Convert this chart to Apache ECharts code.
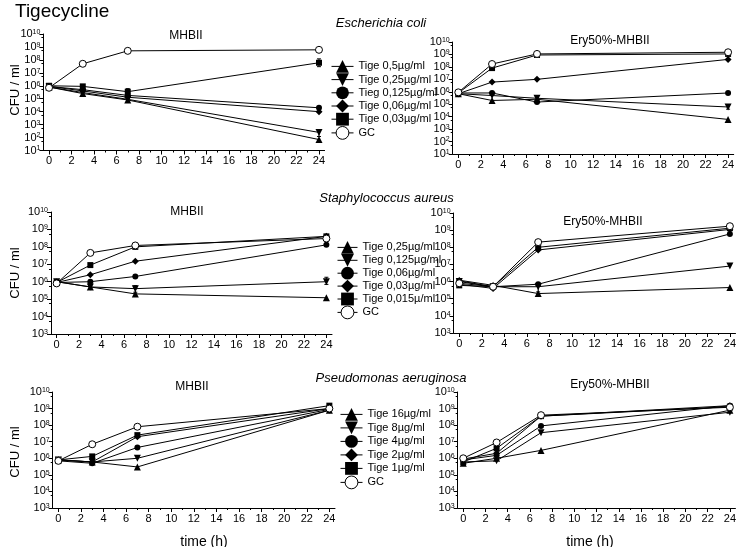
<!DOCTYPE html>
<html><head><meta charset="utf-8">
<script src="https://cdn.jsdelivr.net/npm/echarts@6/dist/echarts.min.js"></script>
<style>html,body{margin:0;padding:0;background:#fff}#c{width:739px;height:547px}</style>
</head><body><div id="c"></div>
<script>
// ---------- data ----------
const times = [0, 3, 7, 24];
const xLabelValues = [0, 2, 4, 6, 8, 10, 12, 14, 16, 18, 20, 22, 24];
const xMinorValues = [1, 3, 5, 7, 9, 11, 13, 15, 17, 19, 21, 23];

const ecoliNames = ['Tige 0,5µg/ml', 'Tige 0,25µg/ml', 'Tieg 0,125µg/ml', 'Tige 0,06µg/ml', 'Tige 0,03µg/ml', 'GC'];
const aureusNames = ['Tige 0,25µg/ml', 'Tieg 0,125µg/ml', 'Tige 0,06µg/ml', 'Tige 0,03µg/ml', 'Tige 0,015µ/ml', 'GC'];
const pseudoNames = ['Tige 16µg/ml', 'Tige 8µg/ml', 'Tige 4µg/ml', 'Tige 2µg/ml', 'Tige 1µg/ml', 'GC'];

// rows: ▲, ▼, ●, ◆, ■, GC  (CFU/ml at t = 0, 3, 7, 24 h)
const ecoliMHB = [
  [8e5, 2.5e5, 8e4, 7e1],
  [8e5, 3e5, 9e4, 2.5e2],
  [9e5, 5e5, 1.8e5, 2e4],
  [9e5, 4e5, 1.3e5, 1e4],
  [1e6, 9e5, 3.5e5, 6e7],
  [7e5, 5e7, 5e8, 6e8]
];
const ecoliEry = [
  [7e5, 2e5, 2.5e5, 6e3],
  [7e5, 5e5, 3e5, 6e4],
  [8e5, 8e5, 1.5e5, 8e5],
  [7e5, 6e6, 1e7, 4e8],
  [8e5, 8e7, 9e8, 1.1e9],
  [9e5, 1.7e8, 1.1e9, 1.5e9]
];
const aureusMHB = [
  [1e6, 5e5, 2e5, 1.2e5],
  [1e6, 5e5, 4e5, 1e6],
  [9e5, 1e6, 2e6, 1.3e8],
  [9e5, 2.5e6, 1.5e7, 4e8],
  [9e5, 9e6, 1e8, 4e8],
  [8e5, 4.5e7, 1.2e8, 3e8]
];
const aureusEry = [
  [1.2e6, 6e5, 2e5, 4.5e5],
  [1e6, 5e5, 5e5, 8e6],
  [1.1e6, 5e5, 7e5, 6e8],
  [7e5, 4e5, 7e7, 1.1e9],
  [6e5, 5e5, 1e8, 1.3e9],
  [8e5, 5e5, 2e8, 1.7e9]
];
const pseudoMHB = [
  [8e5, 6e5, 3e5, 8e8],
  [8e5, 6e5, 1e6, 8e8],
  [7e5, 5e5, 4.5e6, 9e8],
  [8e5, 6e5, 2e7, 1e9],
  [8e5, 1.3e6, 2.5e7, 1.5e9],
  [7e5, 7e6, 8e7, 1e9]
];
const pseudoEry = [
  [5e5, 1e6, 3e6, 8e8],
  [6e5, 7e5, 3.5e7, 6e8],
  [8e5, 1.5e6, 9e7, 1.5e9],
  [9e5, 2e6, 3.5e8, 1.5e9],
  [6e5, 4e6, 3.5e8, 1.3e9],
  [1e6, 9e6, 4e8, 1.2e9]
];

// error bars: [time, low, high]
const ecoliMHBErr = [[24, 3e7, 1.2e8], [24, 1.2e2, 4e2], [7, 1.8e5, 6e5], [3, 1.5e5, 4e5]];
const ecoliEryErr = [[24, 4e4, 9e4], [7, 1.5e5, 5e5]];
const aureusMHBErr = [[24, 7e5, 1.8e6], [7, 2.5e5, 6e5]];
const aureusEryErr = [[7, 2.5e5, 8e5]];
const pseudoMHBErr = [];
const pseudoEryErr = [];

// ---------- layout / style ----------
const FONT = "'Liberation Sans', Arial, Helvetica, sans-serif";
const symbols = ['triangle', 'path://M0,0L10,0L5,10Z', 'circle', 'path://M5,0L10,5L5,10L0,5Z', 'rect', 'circle'];
const symbolSizes = [7, 7, 6, 7, 6, 7];

const panels = [
  {data: ecoliMHB,  err: ecoliMHBErr,  names: ecoliNames,  yMin: 1e1, left: 43.4,  top: 34,  width: 281.2, height: 116.5},
  {data: ecoliEry,  err: ecoliEryErr,  names: ecoliNames,  yMin: 1e1, left: 452.7, top: 42,  width: 281,   height: 112},
  {data: aureusMHB, err: aureusMHBErr, names: aureusNames, yMin: 1e3, left: 51,    top: 212, width: 281,   height: 122},
  {data: aureusEry, err: aureusEryErr, names: aureusNames, yMin: 1e3, left: 453.6, top: 213, width: 283.7, height: 120},
  {data: pseudoMHB, err: pseudoMHBErr, names: pseudoNames, yMin: 1e3, left: 52.7,  top: 392, width: 282.3, height: 116},
  {data: pseudoEry, err: pseudoEryErr, names: pseudoNames, yMin: 1e3, left: 457.7, top: 392, width: 281,   height: 116}
];

const grid = [], xAxis = [], yAxis = [], series = [];
panels.forEach((p, k) => {
  grid.push({left: p.left, top: p.top, width: p.width, height: p.height, containLabel: false});
  xAxis.push({
    type: 'value', gridIndex: k, min: -0.5, max: 24.5, position: 'bottom',
    axisLine: {show: true, onZero: false, lineStyle: {color: '#000', width: 1}},
    axisTick: {show: true, customValues: xLabelValues, length: 4, lineStyle: {color: '#000'}},
    axisLabel: {show: true, customValues: xLabelValues, margin: 5, fontSize: 11, fontFamily: FONT, color: '#000',
      showMinLabel: true, showMaxLabel: true, hideOverlap: false},
    splitLine: {show: false}
  });
  xAxis.push({
    type: 'value', gridIndex: k, min: -0.5, max: 24.5, position: 'bottom',
    axisLine: {show: false, onZero: false},
    axisTick: {show: true, customValues: xMinorValues, length: 2, lineStyle: {color: '#000'}},
    axisLabel: {show: false},
    splitLine: {show: false}
  });
  yAxis.push({
    type: 'log', logBase: 10, gridIndex: k, min: p.yMin, max: 1e10, interval: 1,
    axisLine: {show: true, onZero: false, lineStyle: {color: '#000', width: 1}},
    axisTick: {show: true, length: 4, lineStyle: {color: '#000'}},
    minorTick: {show: true, splitNumber: 2, length: 2, lineStyle: {color: '#000'}},
    splitLine: {show: false},
    axisLabel: {
      margin: 3, showMinLabel: true, showMaxLabel: true, hideOverlap: false,
      formatter: v => '{b|10}{s|' + Math.round(Math.log10(v)) + '}',
      rich: {
        b: {fontSize: 11, fontFamily: FONT, color: '#000', lineHeight: 11, verticalAlign: 'bottom'},
        s: {fontSize: 7, fontFamily: FONT, color: '#000', lineHeight: 11, verticalAlign: 'top'}
      }
    }
  });
  if (p.err.length) {
    series.push({
      type: 'custom', name: 'err' + k, xAxisIndex: 2 * k, yAxisIndex: k, silent: true, z: 1,
      data: p.err,
      encode: {x: 0, y: [1, 2]},
      renderItem: (params, api) => {
        const lo = api.coord([api.value(0), api.value(1)]);
        const hi = api.coord([api.value(0), api.value(2)]);
        const c = 2;
        const st = {stroke: '#000', lineWidth: 1};
        return {type: 'group', children: [
          {type: 'line', shape: {x1: lo[0], y1: lo[1], x2: hi[0], y2: hi[1]}, style: st},
          {type: 'line', shape: {x1: hi[0] - c, y1: hi[1], x2: hi[0] + c, y2: hi[1]}, style: st},
          {type: 'line', shape: {x1: lo[0] - c, y1: lo[1], x2: lo[0] + c, y2: lo[1]}, style: st}
        ]};
      }
    });
  }
  p.data.forEach((vals, i) => {
    const isGC = i === 5;
    series.push({
      type: 'line', name: p.names[i] + '|' + k,
      xAxisIndex: 2 * k, yAxisIndex: k,
      data: times.map((t, j) => [t, vals[j]]),
      symbol: symbols[i], symbolSize: symbolSizes[i], showAllSymbol: true,
      lineStyle: {color: '#000', width: 1},
      itemStyle: isGC ? {color: '#fff', borderColor: '#000', borderWidth: 1} : {color: '#000', borderWidth: 0},
      emphasis: {disabled: true},
      z: isGC ? 3 : 2
    });
  });
});

function legendFor(names, k, left, top, itemWidth, gap) {
  return {
    orient: 'vertical', left: left, top: top, padding: 0,
    itemWidth: itemWidth, itemHeight: 16, itemGap: gap, selectedMode: false,
    formatter: n => n.split('|')[0],
    textStyle: {fontSize: 11, fontFamily: FONT, color: '#000'},
    data: names.map((n, i) => ({
      name: n + '|' + k,
      itemStyle: i === 5 ? {color: '#fff', borderColor: '#000', borderWidth: 1} : {color: '#000', borderWidth: 0},
      lineStyle: {color: '#000', width: 1}
    }))
  };
}

const legend = [
  legendFor(ecoliNames, 0, 331, 60, 22, 0.4),
  legendFor(aureusNames, 2, 337, 241, 20, 0.1),
  legendFor(pseudoNames, 4, 340, 408, 22, 0.7)
];

function txt(text, x, y, size, opts) {
  return Object.assign({
    type: 'text', x: x, y: y, silent: true,
    style: Object.assign({text: text, x: 0, y: 0, fill: '#000', textAlign: 'center', textVerticalAlign: 'middle',
      font: size + 'px ' + FONT}, (opts && opts.style) || {})
  }, (opts && opts.el) || {});
}

const graphicEls = [
  txt('Tigecycline', 15, 12, 19, {style: {textAlign: 'left'}}),
  txt('Escherichia coli', 381, 23, 13, {style: {font: 'italic 13px ' + FONT}}),
  txt('Staphylococcus aureus', 386.5, 198, 13, {style: {font: 'italic 13px ' + FONT}}),
  txt('Pseudomonas aeruginosa', 391, 378, 13, {style: {font: 'italic 13px ' + FONT}}),
  txt('MHBII', 186, 36, 12),
  txt('Ery50%-MHBII', 610, 41, 12),
  txt('MHBII', 187, 212, 12),
  txt('Ery50%-MHBII', 603, 222, 12),
  txt('MHBII', 192, 387, 12),
  txt('Ery50%-MHBII', 610, 385, 12),
  txt('CFU / ml', 15, 90, 13, {el: {rotation: Math.PI / 2}}),
  txt('CFU / ml', 15, 273, 13, {el: {rotation: Math.PI / 2}}),
  txt('CFU / ml', 15, 452, 13, {el: {rotation: Math.PI / 2}}),
  txt('time (h)', 204, 542, 14),
  txt('time (h)', 590, 542, 14)
];

const chart = echarts.init(document.getElementById('c'), null, {renderer: 'canvas'});
chart.setOption({
  animation: false,
  backgroundColor: '#fff',
  grid: grid, xAxis: xAxis, yAxis: yAxis, series: series, legend: legend,
  graphic: {elements: graphicEls}
});
</script></body></html>
